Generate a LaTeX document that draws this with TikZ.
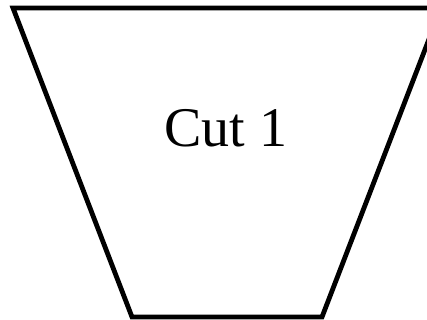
\documentclass[tikz,border=0pt]{standalone}
\usepackage{fontspec}
\setmainfont{Liberation Serif}
\begin{document}
\begin{tikzpicture}[x=1pt,y=1pt,
  shapeline/.style={draw=black,line width=4.8pt,line join=miter},
  lbl/.style={font=\fontsize{56}{64}\selectfont,inner sep=0pt,anchor=base}]
\useasboundingbox (0,0) rectangle (427,320);
\begin{scope}
\clip (0,0) rectangle (427,320);
\coordinate (tl) at (13,312);
\coordinate (tr) at (441,312);
\coordinate (br) at (322,3);
\coordinate (bl) at (132,3);
\draw[shapeline] (tl) -- (tr) -- (br) -- (bl) -- cycle;
\end{scope}
\node[lbl] (cut) at (226,173) {Cut 1};
\end{tikzpicture}
\end{document}
